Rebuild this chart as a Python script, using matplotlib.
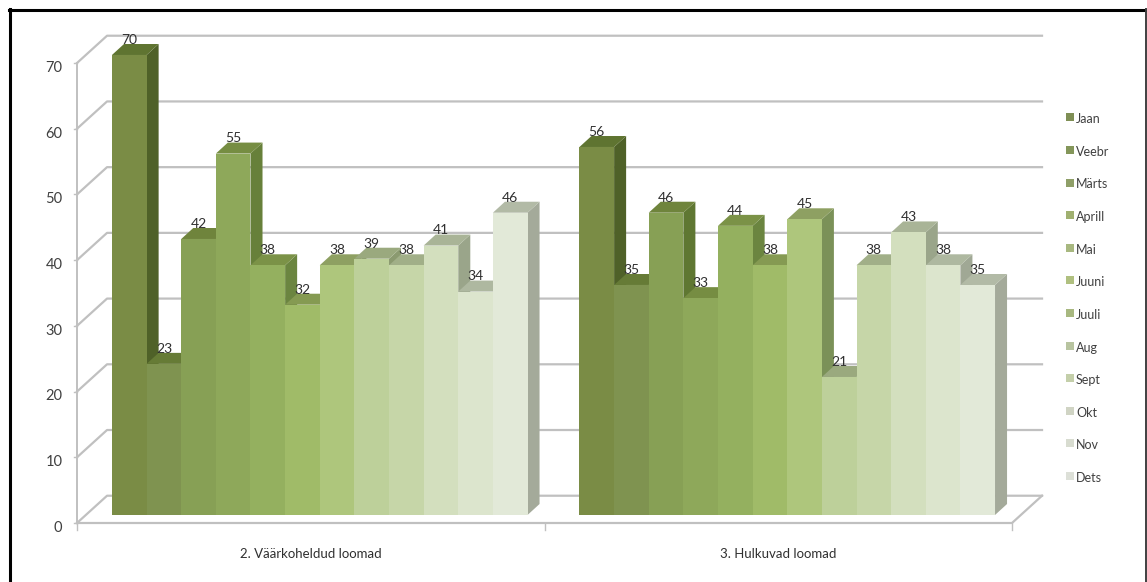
import matplotlib
matplotlib.use("Agg")
import matplotlib.pyplot as plt
from matplotlib.patches import Polygon, Rectangle

plt.rcParams['font.family'] = ['Lato', 'DejaVu Sans']

# andmed
kuud = ["Jaan", "Veebr", "Märts", "Aprill", "Mai", "Juuni", "Juuli", "Aug", "Sept", "Okt", "Nov", "Dets"]
kategooriad = ["2. Väärkoheldud loomad", "3. Hulkuvad loomad"]
vaarkoheldud = [70, 23, 42, 55, 38, 32, 38, 39, 38, 41, 34, 46]
hulkuvad = [56, 35, 46, 33, 44, 38, 45, 21, 38, 43, 38, 35]
y_ticks = [0, 10, 20, 30, 40, 50, 60, 70]

# värvid: esikülg, külg, pealmine
esi = ["#7a8c45", "#7f9350", "#87a055", "#8ea85a", "#94b05f", "#a0bb68",
       "#aec67c", "#bdd09a", "#c6d6a8", "#d3dfbe", "#dce5cd", "#e2e9d8"]
kulg = ["#4f6128", "#566b2c", "#5f7732", "#67803a", "#6b8540", "#758c4a",
        "#7b9158", "#8b9a70", "#929f7b", "#9aa58a", "#a0a895", "#a4aa9a"]
pealt = ["#5f7431", "#667b36", "#6f843c", "#768d42", "#7b9247", "#859a52",
         "#8ea062", "#9aa97e", "#a1af88", "#a9b497", "#aeb8a0", "#b2baa6"]
legend_colors = ["#7f8f55", "#84965a", "#8f9f68", "#a0b070", "#a8b880", "#b0c080",
                 "#a8b880", "#b8c4a0", "#c4cfaa", "#d0d4c4", "#d8dcd0", "#dde0d8"]

fig = plt.figure(figsize=(11.47, 5.82), dpi=100)
W, H = 1147, 582

# teljed joonise pikslite järgi: x 77..1012, y 523..63
ax = fig.add_axes([77 / W, 1 - 523 / H, 935 / W, 460 / H])
ax.axis("off")

# 3D nihked andmeühikutes
wall_dx, wall_dy = 0.867, 4.15
bar_x0, bar_y0 = 0.26, 1.22
dep_x, dep_y = 0.347, 1.67
grid_color = "#c0c0c0"

# tagaseina jooned
for t in y_ticks:
    ax.plot([0, wall_dx, 27 + wall_dx], [t, t + wall_dy, t + wall_dy],
            color=grid_color, lw=1.6, clip_on=False, zorder=1)
    ax.plot([-0.09, 0], [t, t], color=grid_color, lw=1.0, clip_on=False, zorder=1)
    ax.text(-0.42, t - 0.75, str(t), ha="right", va="center", fontsize=10.5,
            color="#404040", clip_on=False)
ax.plot([0, 0], [0, 70], color=grid_color, lw=1.4, clip_on=False, zorder=1)
ax.plot([0, 27, 27 + wall_dx], [0, 0, wall_dy], color=grid_color, lw=1.6, clip_on=False, zorder=1)
for x in [0, 13.5, 27]:
    ax.plot([x, x], [0, -1.0], color=grid_color, lw=1.0, clip_on=False, zorder=1)

# tulbad
z = 3
for g, vals in enumerate([vaarkoheldud, hulkuvad]):
    x0 = g * 13.5 + 0.75 + bar_x0
    for i, v in enumerate(vals):
        x = x0 + i
        top = bar_y0 + v
        ax.add_patch(Polygon([(x + 1, bar_y0), (x + 1 + dep_x, bar_y0 + dep_y),
                              (x + 1 + dep_x, top + dep_y), (x + 1, top)],
                             closed=True, fc=kulg[i], ec="none", zorder=z, clip_on=False))
        ax.add_patch(Polygon([(x, top), (x + dep_x, top + dep_y),
                              (x + 1 + dep_x, top + dep_y), (x + 1, top)],
                             closed=True, fc=pealt[i], ec="none", zorder=z, clip_on=False))
        ax.bar(x + 0.5, v, width=1.0, bottom=bar_y0, color=esi[i], zorder=z + 1, clip_on=False)
        z += 2
    for i, v in enumerate(vals):
        ax.text(x0 + i + 0.5, bar_y0 + v + 2.3, str(v), ha="center", va="center",
                fontsize=10, color="#303030", zorder=200, clip_on=False)
    ax.text(g * 13.5 + 6.75, -4.65, kategooriad[g], ha="center", va="center",
            fontsize=9.5, color="#303030", clip_on=False)

ax.set_xlim(0, 27)
ax.set_ylim(0, 70)

# legend
for i, kuu in enumerate(kuud):
    y_px = 117.3 + i * 32.6
    fig.patches.append(Rectangle((1066 / W, 1 - (y_px + 4) / H), 8 / W, 8 / H,
                                 transform=fig.transFigure, fc=legend_colors[i], ec="none"))
    fig.text(1076 / W, 1 - (y_px + 2) / H, kuu, ha="left", va="center", fontsize=9, color="#404040")

# must raam ümber
fig.add_artist(plt.Line2D([10 / W, 10 / W], [0, 1 - 9 / H], color="black", lw=2.2))
fig.add_artist(plt.Line2D([9 / W, 1146 / W], [1 - 10 / H, 1 - 10 / H], color="black", lw=2.2))
fig.add_artist(plt.Line2D([1145.5 / W, 1145.5 / W], [0, 1 - 9 / H], color="#404040", lw=1.4))

fig.savefig("out.png", dpi=100)
